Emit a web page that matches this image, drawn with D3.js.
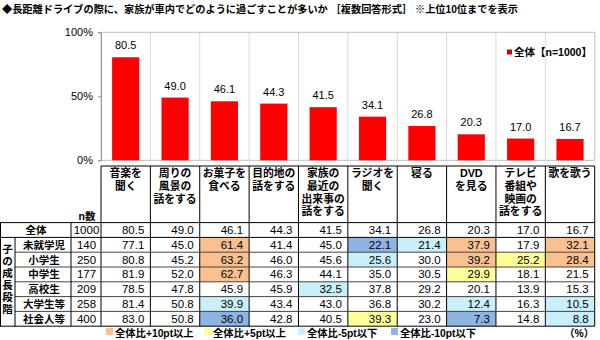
<!DOCTYPE html>
<html><head><meta charset="utf-8">
<script src="https://cdn.jsdelivr.net/npm/d3@7"></script>
<style>
html,body{margin:0;padding:0;background:#fff;}
svg{display:block;}
.jp{font-family:"Liberation Sans","Noto Sans CJK JP",sans-serif;font-weight:bold;}
.num{font-family:"Liberation Sans",Arial,sans-serif;}
</style></head>
<body>
<svg id="c" width="600" height="340"></svg>
<script>
// ---- data ----
const title = "◆長距離ドライブの際に、家族が車内でどのように過ごすことが多いか ［複数回答形式］ ※上位10位までを表示";
const categories = [
  ["音楽を","聞く"],
  ["周りの","風景の","話をする"],
  ["お菓子を","食べる"],
  ["目的地の","話をする"],
  ["家族の","最近の","出来事の","話をする"],
  ["ラジオを","聞く"],
  ["寝る"],
  ["DVD","を見る"],
  ["テレビ","番組や","映画の","話をする"],
  ["歌を歌う"]
];
const overall = [80.5, 49.0, 46.1, 44.3, 41.5, 34.1, 26.8, 20.3, 17.0, 16.7];
const totalLabel = "全体";
const totalN = 1000;
const groupTitle = "子の成長段階";
const groups = ["未就学児","小学生","中学生","高校生","大学生等","社会人等"];
const groupN = [140, 250, 177, 209, 258, 400];
const groupValues = [
  [77.1, 45.0, 61.4, 41.4, 45.0, 22.1, 21.4, 37.9, 17.9, 32.1],
  [80.8, 45.2, 63.2, 46.0, 45.6, 25.6, 30.0, 39.2, 25.2, 28.4],
  [81.9, 52.0, 62.7, 46.3, 44.1, 35.0, 30.5, 29.9, 18.1, 21.5],
  [78.5, 47.8, 45.9, 45.9, 32.5, 37.8, 29.2, 20.1, 13.9, 15.3],
  [81.4, 50.8, 39.9, 43.4, 43.0, 36.8, 30.2, 12.4, 16.3, 10.5],
  [83.0, 50.8, 36.0, 42.8, 40.5, 39.3, 23.0,  7.3, 14.8,  8.8]
];
const yTicks = [0, 50, 100];
const legendLabel = "全体【n=1000】";
const highlightLabels = ["全体比+10pt以上","全体比+5pt以上","全体比-5pt以下","全体比-10pt以下"];
const unitLabel = "（%）";

// ---- layout ----
const svg = d3.select("#c");
const colors = {up10:"#FAC090", up5:"#FFFF99", dn5:"#C9EFF9", dn10:"#8EB4E3"};
const hlKeys = ["up10","up5","dn5","dn10"];
const plotL = 101, plotR = 594.7, plotT = 32.3, plotB = 160.3;
const x = d3.scaleBand().domain(d3.range(categories.length)).range([plotL, plotR]).paddingInner(0.45).paddingOuter(0.225);
const step = x.step();
const colLeft = i => plotL + i*step;
const y = d3.scaleLinear().domain([0,100]).range([plotB, plotT]);

// title
svg.append("text").attr("class","jp").attr("x",2).attr("y",12.5).attr("font-size",10.2).attr("fill","#000").text(title);

// plot gridlines
const g = svg.append("g");
g.selectAll("line.vg").data(d3.range(1,categories.length)).join("line")
  .attr("x1",i=>colLeft(i)).attr("x2",i=>colLeft(i)).attr("y1",plotT).attr("y2",plotB)
  .attr("stroke","#D9D9D9").attr("stroke-width",1);
g.append("rect").attr("x",plotL).attr("y",plotT).attr("width",plotR-plotL).attr("height",plotB-plotT)
  .attr("fill","none").attr("stroke","#BFBFBF");

// y axis
const yAxis = d3.axisLeft(y).tickValues(yTicks).tickSize(3).tickPadding(5).tickFormat(d=>d+"%");
const ya = svg.append("g").attr("transform",`translate(${plotL},0)`).call(yAxis);
ya.select(".domain").attr("stroke","#999");
ya.selectAll(".tick line").attr("stroke","#999");
ya.selectAll("text").attr("class","num").attr("font-size",11).attr("fill","#000");

// bars
g.selectAll("rect.bar").data(overall).join("rect")
  .attr("x",(d,i)=>x(i)).attr("width",x.bandwidth())
  .attr("y",d=>y(d)).attr("height",d=>plotB-y(d))
  .attr("fill","#FF0000");
g.selectAll("text.val").data(overall).join("text")
  .attr("class","num").attr("x",(d,i)=>x(i)+x.bandwidth()/2).attr("y",d=>y(d)-8)
  .attr("text-anchor","middle").attr("font-size",11).attr("fill","#000")
  .text(d=>d.toFixed(1));

// legend (top right)
svg.append("rect").attr("x",507).attr("y",49.5).attr("width",5).attr("height",5).attr("fill","#D00000");
svg.append("text").attr("class","jp").attr("x",514).attr("y",56).attr("font-size",10.5).text(legendLabel);

// ---- table ----
const headT = 166, headB = 222.6, rowH = 14.8;
const nRows = groups.length + 1;
const tableB = headB + nRows*rowH;
const rowY = r => headB + r*rowH;

// highlight fills
function cls(v, base){
  const d = v - base;
  if (d >= 10) return "up10";
  if (d >= 5) return "up5";
  if (d <= -10) return "dn10";
  if (d <= -5) return "dn5";
  return null;
}
const cells = [];
groupValues.forEach((row,r)=>row.forEach((v,c)=>{
  const k = cls(v, overall[c]);
  if (k) cells.push({r:r+1,c,k});
}));
svg.selectAll("rect.hl").data(cells).join("rect")
  .attr("x",d=>colLeft(d.c)).attr("y",d=>rowY(d.r)).attr("width",step).attr("height",rowH)
  .attr("fill",d=>colors[d.k]);

// header labels (one text element per header, wrapped with tspans)
categories.forEach((lines,i)=>{
  const t = svg.append("text").attr("class","jp").attr("y",177).attr("text-anchor","middle").attr("font-size",10.8);
  lines.forEach((s,j)=>{
    t.append("tspan").attr("x",colLeft(i)+step/2).attr("dy", j===0 ? 0 : 12.8).text(s);
  });
});
svg.append("text").attr("class","jp").attr("x",87).attr("y",220).attr("text-anchor","middle").attr("font-size",10.5).text("n数");

// grid lines of table
const L = svg.append("g").attr("stroke","#000").attr("stroke-width",1);
function line(x1,y1,x2,y2,c){L.append("line").attr("x1",x1).attr("y1",y1).attr("x2",x2).attr("y2",y2).attr("stroke",c||"#000");}
line(plotL,headT,plotR,headT);
for (let i=0;i<=categories.length;i++) line(colLeft(i),headT,colLeft(i),tableB);
line(0,headB,plotR,headB);
line(0,rowY(1),plotR,rowY(1));
for (let r=2;r<nRows;r++) line(15,rowY(r),plotR,rowY(r),"#444");
line(0,tableB,plotR,tableB);
line(0.5,headB,0.5,tableB);
line(15,rowY(1),15,tableB);
line(71,headB,71,tableB);

// row labels
const allRows = [{label:totalLabel,n:totalN,vals:overall}].concat(groups.map((gname,i)=>({label:gname,n:groupN[i],vals:groupValues[i]})));
allRows.forEach((row,r)=>{
  const cy = rowY(r)+rowH/2+4;
  svg.append("text").attr("class","jp").attr("x", r===0 ? 36 : 44).attr("y",cy).attr("text-anchor","middle").attr("font-size",10.5).text(row.label);
  svg.append("text").attr("class","num").attr("x",86.5).attr("y",cy).attr("text-anchor","middle").attr("font-size",11.5).text(row.n);
  row.vals.forEach((v,c)=>{
    svg.append("text").attr("class","num").attr("x",colLeft(c)+step-6).attr("y",cy).attr("text-anchor","end").attr("font-size",11.5).text(v.toFixed(1));
  });
});
// vertical group title (single text, one character per line)
const gt = Array.from(groupTitle);
const gMid = (rowY(1)+tableB)/2 - 3;
const vt = svg.append("text").attr("class","jp").attr("y",gMid - (gt.length-1)/2*12 + 4).attr("text-anchor","middle").attr("font-size",10.5);
gt.forEach((ch,i)=>{
  vt.append("tspan").attr("x",7.5).attr("dy", i===0 ? 0 : 12).text(ch);
});

// bottom legend
const lx = [106, 204, 298, 391];
hlKeys.forEach((k,i)=>{
  svg.append("rect").attr("x",lx[i]).attr("y",328).attr("width",7).attr("height",7).attr("fill",colors[k]);
  svg.append("text").attr("class","jp").attr("x",lx[i]+9).attr("y",336.5).attr("font-size",10.3).text(highlightLabels[i]);
});
svg.append("text").attr("class","jp").attr("x",594).attr("y",336.5).attr("text-anchor","end").attr("font-size",10.3).text(unitLabel);
</script>
</body></html>
